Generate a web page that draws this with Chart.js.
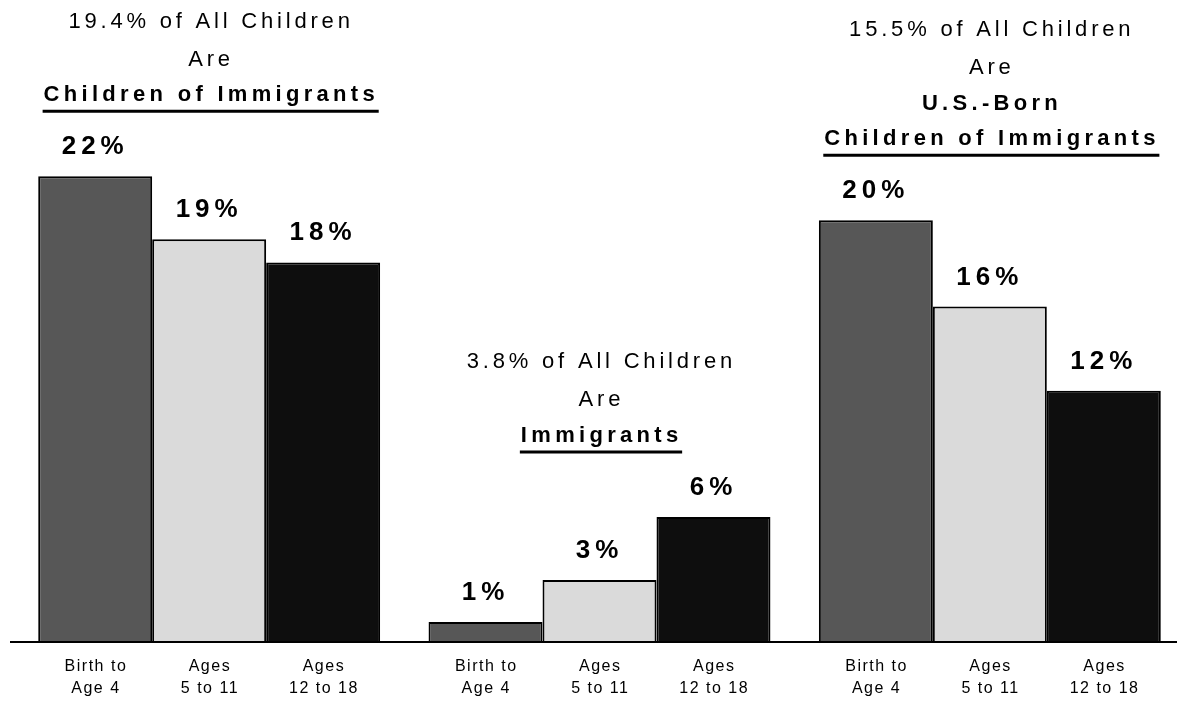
<!DOCTYPE html>
<html>
<head>
<meta charset="utf-8">
<script src="https://cdn.jsdelivr.net/npm/chart.js@4.4.1/dist/chart.umd.min.js"></script>
<style>
  html, body { margin: 0; padding: 0; background: #ffffff; overflow: hidden; }
  #wrap { width: 1179px; height: 702px; overflow: hidden; position: relative; }
  canvas { display: block; }
</style>
</head>
<body>
<div id="wrap"><canvas id="c" width="1190" height="702"></canvas></div>
<script>
// ---- data ----
const groups = ["Children of Immigrants", "Immigrants", "U.S.-Born Children of Immigrants"];
const ageGroups = ["Birth to Age 4", "Ages 5 to 11", "Ages 12 to 18"];
const tickLabels = [["Birth to", "Age 4"], ["Ages", "5 to 11"], ["Ages", "12 to 18"]];
const birthTo4 = [22.1, 0.9, 20.0];
const ages5to11 = [19.1, 2.9, 15.9];
const ages12to18 = [18.0, 5.9, 11.9];
const groupTitles = [
  ["19.4% of All Children", "Are", "Children of Immigrants"],
  ["3.8% of All Children", "Are", "Immigrants"],
  ["15.5% of All Children", "Are", "U.S.-Born", "Children of Immigrants"]
];
const boldFromLine = 2;

const seriesValues = [birthTo4, ages5to11, ages12to18];
const barColors = ["#575757", "#dadada", "#0e0e0e"];
const FONT = '"Liberation Sans", Arial, Helvetica, sans-serif';

function spacedText(ctx, text, cx, y, ls, inkCenter) {
  ctx.letterSpacing = ls + "px";
  const full = ctx.measureText(text).width;
  const w = inkCenter ? full - ls : full;
  ctx.textAlign = "left";
  ctx.fillText(text, cx - w / 2, y);
  return { left: cx - w / 2, width: full - ls };
}

const annotate = {
  id: "annotate",
  afterDatasetsDraw(chart) {
    const ctx = chart.ctx;
    const area = chart.chartArea;
    ctx.save();
    // baseline axis line
    ctx.strokeStyle = "#000";
    ctx.lineWidth = 2;
    ctx.beginPath();
    ctx.moveTo(10, area.bottom + 1);
    ctx.lineTo(1177, area.bottom + 1);
    ctx.stroke();

    ctx.fillStyle = "#000";
    ctx.textBaseline = "alphabetic";
    // value labels and per-bar tick labels
    chart.data.datasets.forEach((ds, di) => {
      const meta = chart.getDatasetMeta(di);
      meta.data.forEach((bar, gi) => {
        ctx.font = "bold 26px " + FONT;
        spacedText(ctx, Math.round(ds.data[gi]) + "%", bar.x, bar.y - 22, 5, false);
        ctx.font = "16px " + FONT;
        spacedText(ctx, tickLabels[di][0], bar.x, area.bottom + 30, 1.5, true);
        spacedText(ctx, tickLabels[di][1], bar.x, area.bottom + 52, 1.5, true);
      });
    });

    // group titles, placed above the tallest bar of each group
    const mid = chart.getDatasetMeta(1);
    groupTitles.forEach((lines, gi) => {
      let top = Infinity;
      chart.data.datasets.forEach((ds, di) => {
        top = Math.min(top, chart.getDatasetMeta(di).data[gi].y);
      });
      const cx = mid.data[gi].x;
      const underlineY = top - 65;
      const n = lines.length;
      let boldBox = null;
      let y = underlineY - 10;
      const ys = [];
      for (let li = n - 1; li >= 0; li--) {
        ys[li] = y;
        y -= (li === 1 ? 38 : 35.5);
      }
      lines.forEach((line, li) => {
        const bold = li >= boldFromLine;
        ctx.font = (bold ? "bold " : "") + "22px " + FONT;
        const box = spacedText(ctx, line, cx, ys[li], bold ? 4.3 : 3.8, true);
        if (li === n - 1) boldBox = box;
      });
      ctx.lineWidth = 3;
      ctx.beginPath();
      ctx.moveTo(boldBox.left - 1, underlineY);
      ctx.lineTo(boldBox.left + boldBox.width + 4, underlineY);
      ctx.stroke();
    });
    ctx.restore();
  }
};

new Chart(document.getElementById("c"), {
  type: "bar",
  data: {
    labels: groups,
    datasets: ageGroups.map((name, i) => ({
      label: name,
      data: seriesValues[i],
      backgroundColor: barColors[i],
      borderColor: "#000",
      borderWidth: 2,
      borderSkipped: "bottom",
      categoryPercentage: 0.876,
      barPercentage: 1.0
    }))
  },
  options: {
    responsive: false,
    animation: false,
    layout: { padding: { left: 14, right: 5, top: 10, bottom: 61 } },
    plugins: { legend: { display: false }, tooltip: { enabled: false }, title: { display: false } },
    scales: {
      x: { display: false, offset: true, grid: { display: false } },
      y: { display: false, min: 0, max: 30, grid: { display: false } }
    }
  },
  plugins: [annotate]
});
</script>
</body>
</html>
